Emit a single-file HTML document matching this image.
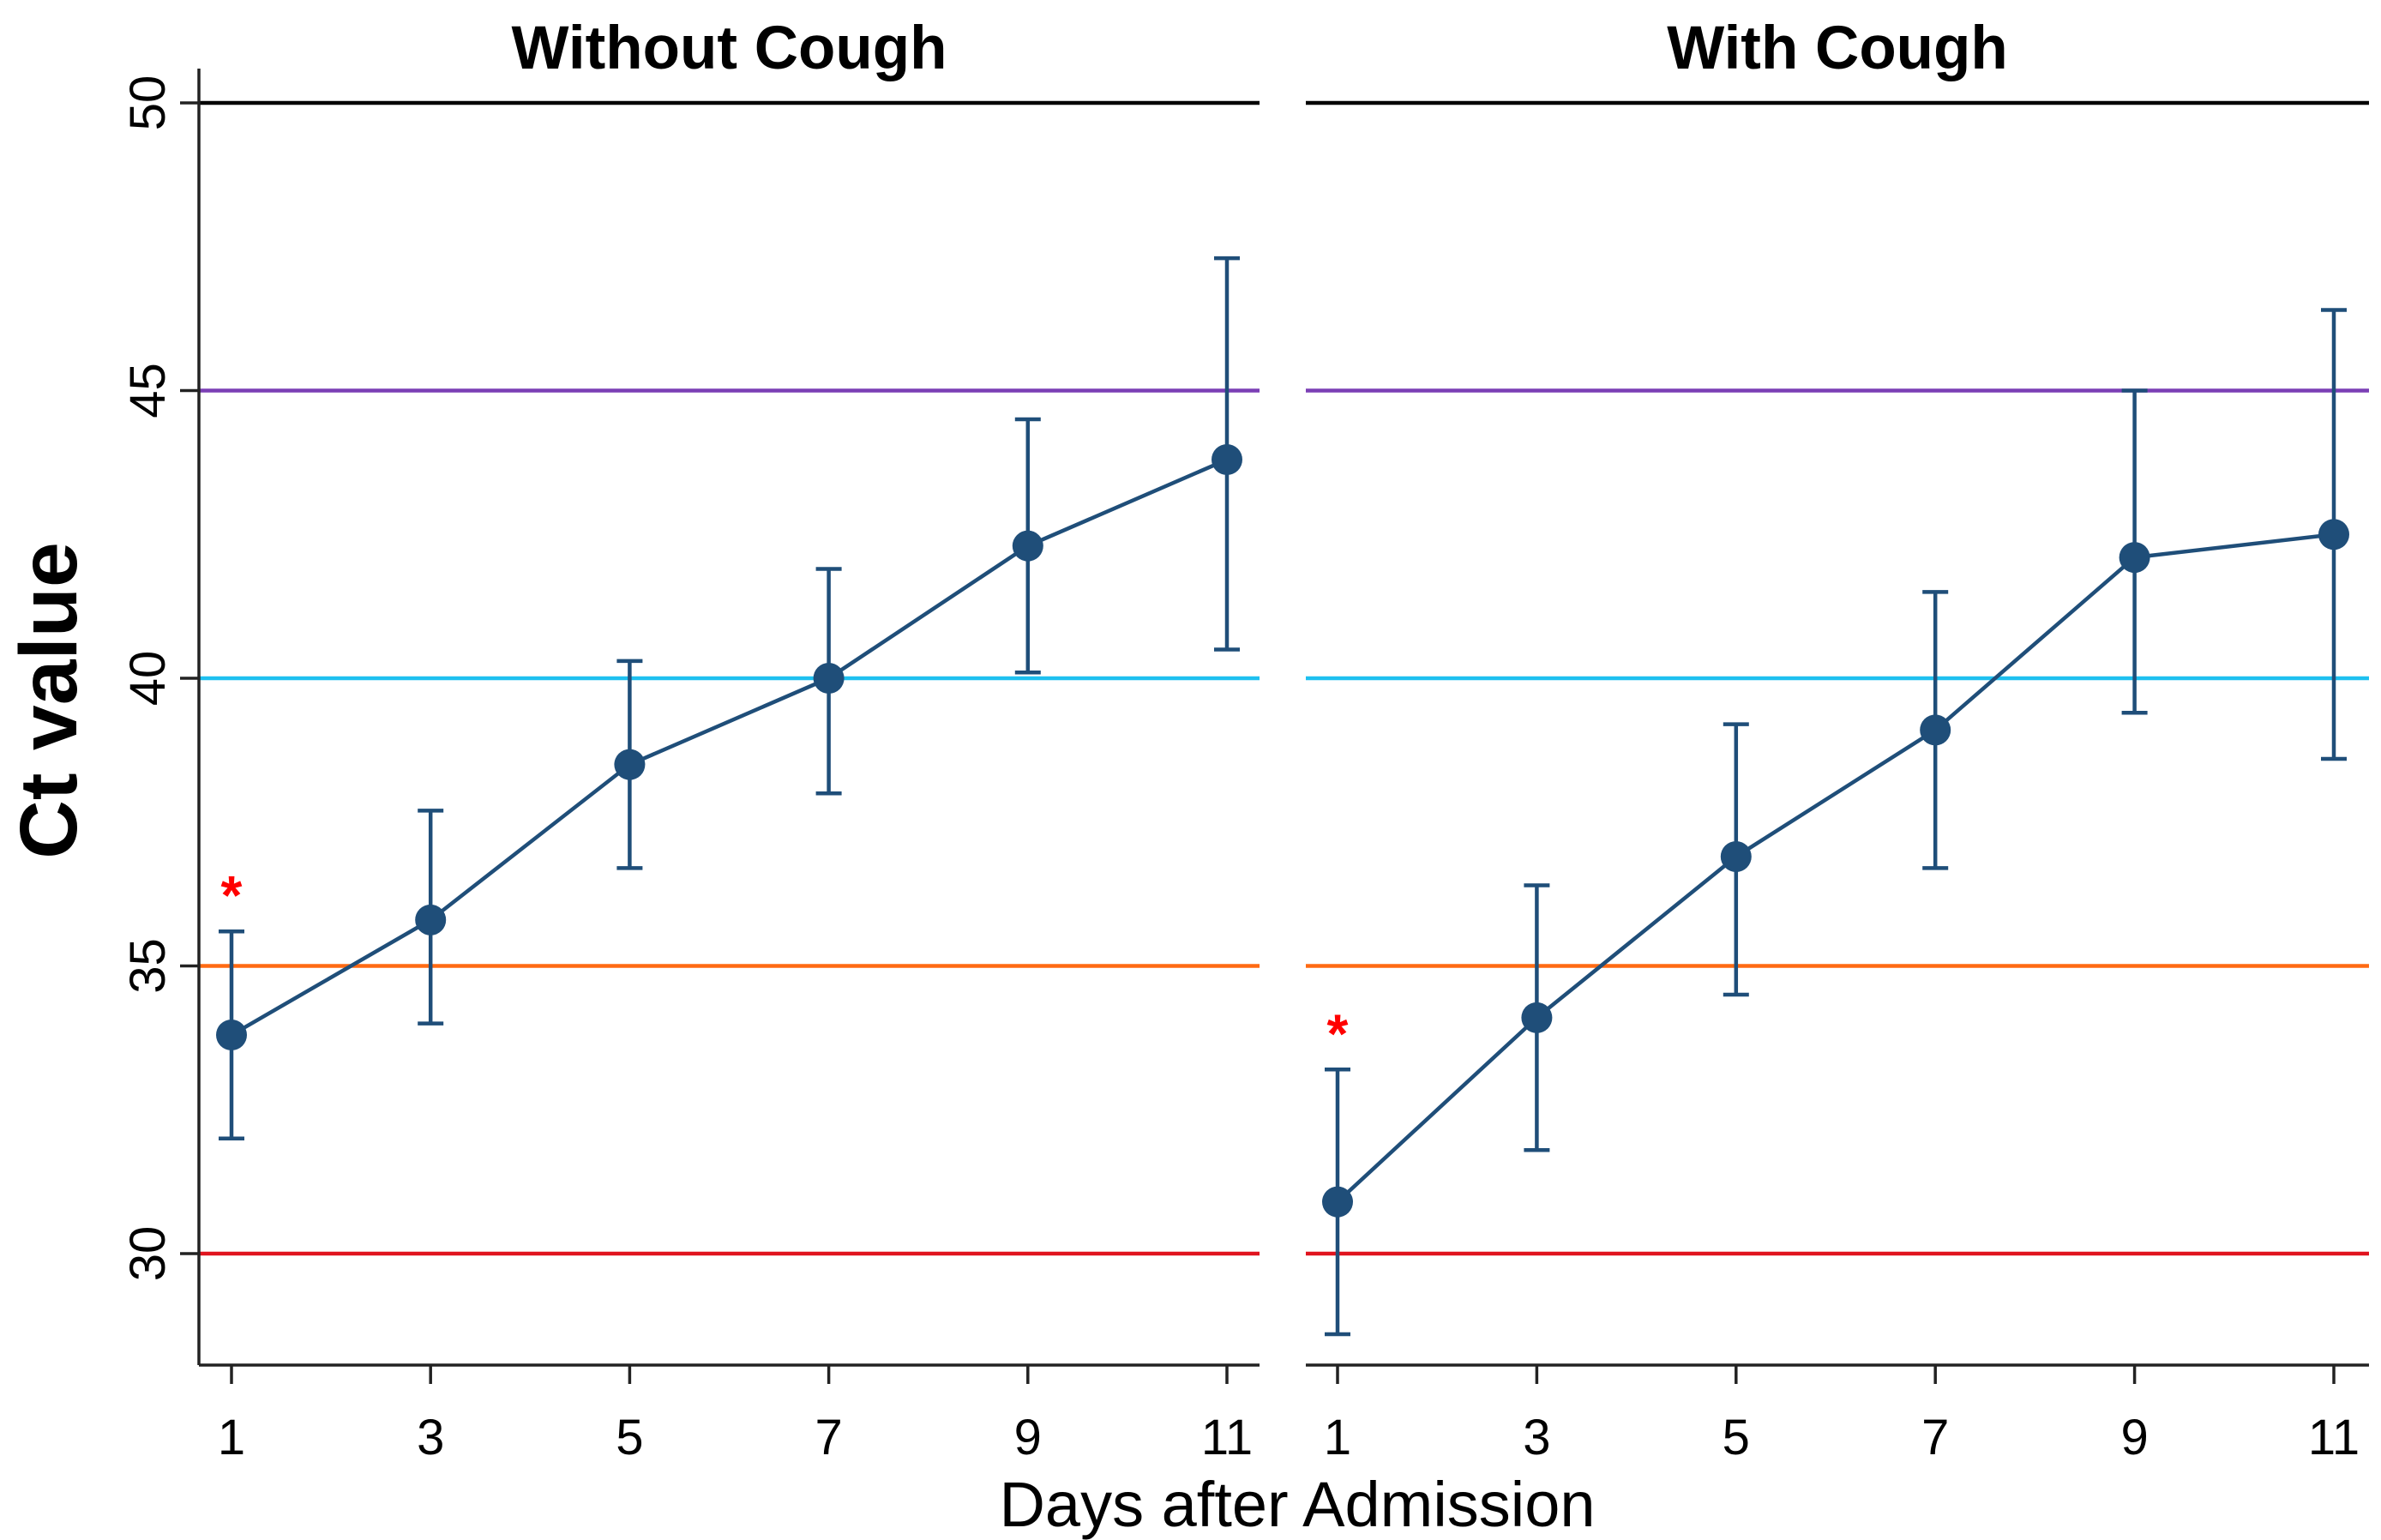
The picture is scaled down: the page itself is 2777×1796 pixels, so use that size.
<!DOCTYPE html>
<html><head><meta charset="utf-8"><style>
html,body{margin:0;padding:0;background:#fff;}
svg{display:block;font-family:"Liberation Sans",Arial,sans-serif;}
</style></head><body>
<svg id="c" width="2777" height="1796" viewBox="0 0 2777 1796"></svg>
<script>
const days=[1,3,5,7,9,11];
const panelTitles=["Without Cough","With Cough"];
const meanNo=[33.8,35.8,38.5,40.0,42.3,43.8];
const lowNo=[32.0,34.0,36.7,38.0,40.1,40.5];
const highNo=[35.6,37.7,40.3,41.9,44.5,47.3];
const meanYes=[30.9,34.1,36.9,39.1,42.1,42.5];
const lowYes=[28.6,31.8,34.5,36.7,39.4,38.6];
const highYes=[33.2,36.4,39.2,41.5,45.0,46.4];
const refValues=[50,45,40,35,30];
const refColors=["#000000","#7b3fb5","#1ec0f0","#ff6a13","#e0141e"];
const yTicks=[30,35,40,45,50];
const xTicks=[1,3,5,7,9,11];

const NS="http://www.w3.org/2000/svg";
const svg=document.getElementById('c');
function mk(t,a,p){const e=document.createElementNS(NS,t);for(const k in a)e.setAttribute(k,a[k]);(p||svg).appendChild(e);return e;}
const Y=v=>1462+(v-30)*(120-1462)/20;
const panels=[{x0:232,x1:1469,d1:270,d11:1431,mean:meanNo,lo:lowNo,hi:highNo},
              {x0:1523,x1:2763,d1:1560,d11:2722,mean:meanYes,lo:lowYes,hi:highYes}];
const col="#1f4e79";
panels.forEach((p,pi)=>{
  const X=d=>p.d1+(d-1)*(p.d11-p.d1)/10;
  const g=mk('g',{});
  
  
  const t=mk('text',{x:(p.x0+p.x1)/2,y:80,'text-anchor':'middle','font-size':71,'font-weight':'bold'},g);
  t.textContent=panelTitles[pi];
  
  
  refValues.forEach((v,i)=>{
    const l=mk('line',{x1:p.x0,x2:p.x1,y1:Y(v),y2:Y(v),stroke:refColors[i],'stroke-width':4.5},g);
    
    
  });
  const ax=mk('line',{x1:p.x0,x2:p.x1,y1:1592,y2:1592,stroke:'#222','stroke-width':3.5},g);
  
  
  xTicks.forEach(d=>{
    mk('line',{x1:X(d),x2:X(d),y1:1592,y2:1614,stroke:'#222','stroke-width':3.5},g);
    const tl=mk('text',{x:X(d),y:1696,'text-anchor':'middle','font-size':58},g);
    tl.textContent=d;
    
    
  });
  let pts=days.map((d,i)=>X(d)+','+Y(p.mean[i])).join(' ');
  const pl=mk('polyline',{points:pts,fill:'none',stroke:col,'stroke-width':4.5},g);
  
  
  days.forEach((d,i)=>{
    const x=X(d);
    const eb=mk('path',{d:`M${x},${Y(p.lo[i])}V${Y(p.hi[i])}M${x-15},${Y(p.lo[i])}h30M${x-15},${Y(p.hi[i])}h30`,stroke:col,'stroke-width':4.5,fill:'none'},g);
    
    
    const c=mk('circle',{cx:x,cy:Y(p.mean[i]),r:18,fill:col},g);
    
    
  });
  const s=mk('text',{x:X(1),y:Y(p.hi[0])-20,'text-anchor':'middle','font-size':64,fill:'#ff0000','font-weight':'bold'},g);
  s.textContent='*';
  
  
});
const ya=mk('line',{x1:232,x2:232,y1:80,y2:1592,stroke:'#222','stroke-width':3.5});


yTicks.forEach(v=>{
  mk('line',{x1:210,x2:232,y1:Y(v),y2:Y(v),stroke:'#222','stroke-width':3.5});
  const t=mk('text',{x:0,y:0,'text-anchor':'middle','font-size':58,transform:`translate(192,${Y(v)}) rotate(-90)`});
  t.textContent=v;
  
  
});
const yt=mk('text',{x:0,y:0,'text-anchor':'middle','font-size':95,'font-weight':'bold',transform:`translate(89,817) rotate(-90)`});
yt.textContent='Ct value';


const xt=mk('text',{x:1513,y:1780,'text-anchor':'middle','font-size':74});
xt.textContent='Days after Admission';


</script>
</body></html>
